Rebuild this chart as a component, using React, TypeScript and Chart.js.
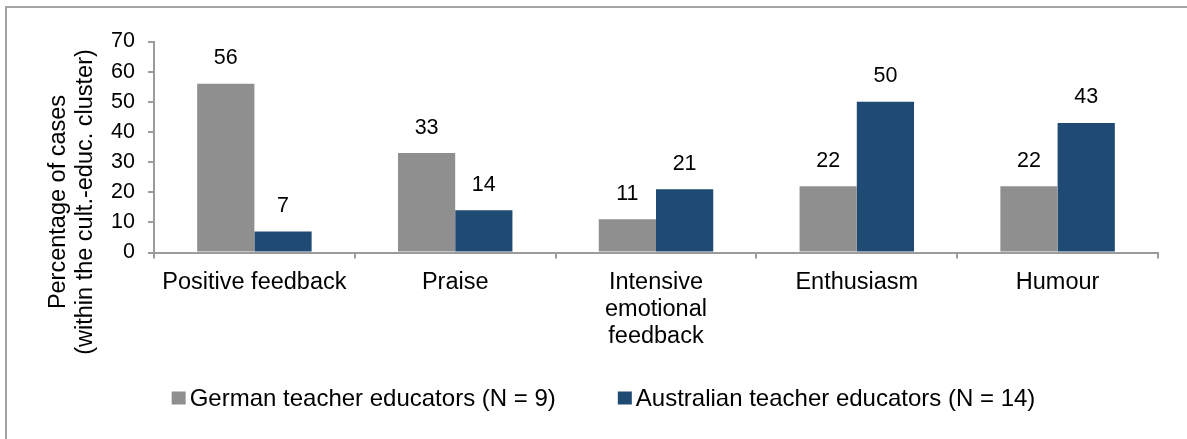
import React, { useEffect, useRef } from 'react';
import { Chart, registerables } from 'chart.js';

Chart.register(...registerables);

const categories: (string | string[])[] = [
  'Positive feedback',
  'Praise',
  ['Intensive', 'emotional', 'feedback'],
  'Enthusiasm',
  'Humour',
];
const germanValues = [56, 33, 11, 22, 22];
const australianValues = [7, 14, 21, 50, 43];
const seriesLabels = ['German teacher educators (N = 9)', 'Australian teacher educators (N = 14)'];
const yAxisTitle = ['Percentage of cases', '(within the cult.-educ. cluster)'];
const yMin = 0;
const yMax = 70;
const yStep = 10;

const FONT = '"Liberation Sans", Arial, Helvetica, sans-serif';
const GRAY = '#8f8f8f';
const BLUE = '#1f4a74';
const AXIS = '#9b9b9b';
const TEXT_SIZE = 23.5;
const LEGEND_SIZE = 24;
const NUM_SIZE = 21.5;

const valueLabelPlugin = {
  id: 'valueLabels',
  afterDatasetsDraw(chart: any) {
    const ctx = chart.ctx;
    ctx.save();
    ctx.font = `${NUM_SIZE}px ${FONT}`;
    ctx.fillStyle = '#000';
    ctx.textAlign = 'center';
    ctx.textBaseline = 'alphabetic';
    chart.data.datasets.forEach((ds: any, i: number) => {
      const meta = chart.getDatasetMeta(i);
      meta.data.forEach((el: any, j: number) => {
        ctx.fillText(String(ds.data[j]), el.x, el.y - 19.5);
      });
    });
    ctx.restore();
  },
};

const yTitlePlugin = {
  id: 'yTitle',
  afterDraw(chart: any) {
    const { ctx, chartArea } = chart;
    ctx.save();
    ctx.translate(chartArea.left - 95, (chartArea.top + chartArea.bottom) / 2 + 55);
    ctx.rotate(-Math.PI / 2);
    ctx.font = `${TEXT_SIZE}px ${FONT}`;
    ctx.fillStyle = '#000';
    ctx.textAlign = 'center';
    ctx.textBaseline = 'middle';
    yAxisTitle.forEach((line, i) => ctx.fillText(line, 0, i * 27));
    ctx.restore();
  },
};

// Legend drawn from the chart's own datasets (label + colour)
const legendPlugin = {
  id: 'bottomLegend',
  afterDraw(chart: any) {
    const ctx = chart.ctx;
    const items = chart.data.datasets.map((ds: any) => ({ text: ds.label, color: ds.backgroundColor }));
    const boxW = 14;
    const boxH = 13;
    const textGap = 4;
    const itemGap = 62;
    ctx.save();
    ctx.font = `${LEGEND_SIZE}px ${FONT}`;
    const widths = items.map((it: any) => boxW + textGap + ctx.measureText(it.text).width);
    const total = widths.reduce((a: number, b: number) => a + b, 0) + itemGap * (items.length - 1);
    const cx = chart.width / 2 + 10;
    const cy = chart.height - 39.5;
    let x = cx - total / 2;
    ctx.textAlign = 'left';
    ctx.textBaseline = 'middle';
    items.forEach((it: any, i: number) => {
      ctx.fillStyle = it.color;
      ctx.fillRect(x, cy - 8, boxW, boxH);
      ctx.fillStyle = '#000';
      ctx.fillText(it.text, x + boxW + textGap, cy);
      x += widths[i] + itemGap;
    });
    ctx.restore();
  },
};

export default function App() {
  const ref = useRef<HTMLCanvasElement | null>(null);

  useEffect(() => {
    if (!ref.current) return;
    const chart = new Chart(ref.current, {
      type: 'bar',
      data: {
        labels: categories as any,
        datasets: [
          {
            label: seriesLabels[0],
            data: germanValues,
            backgroundColor: GRAY,
            borderWidth: 0,
            barPercentage: 1,
            categoryPercentage: 0.57,
          },
          {
            label: seriesLabels[1],
            data: australianValues,
            backgroundColor: BLUE,
            borderWidth: 0,
            barPercentage: 1,
            categoryPercentage: 0.57,
          },
        ],
      },
      options: {
        animation: false,
        responsive: false,
        maintainAspectRatio: false,
        layout: { padding: { left: 0, right: 29, top: 41.5, bottom: 86.5 } },
        plugins: {
          legend: { display: false },
          tooltip: { enabled: false },
        },
        scales: {
          x: {
            grid: {
              offset: true,
              drawOnChartArea: false,
              drawTicks: true,
              tickLength: 6,
              color: AXIS,
              lineWidth: 2,
            },
            border: { display: true, color: AXIS, width: 2 },
            ticks: {
              color: '#000',
              font: { family: FONT, size: TEXT_SIZE, lineHeight: 1.14 },
              padding: 11,
              maxRotation: 0,
              minRotation: 0,
              autoSkip: false,
            },
            afterFit: (s: any) => {
              s.height = 100;
            },
          },
          y: {
            min: yMin,
            max: yMax,
            ticks: {
              stepSize: yStep,
              color: '#000',
              font: { family: FONT, size: NUM_SIZE },
              padding: 13,
            },
            grid: {
              drawOnChartArea: false,
              drawTicks: true,
              tickLength: 6,
              color: AXIS,
              lineWidth: 2,
            },
            border: { display: true, color: AXIS, width: 2 },
            afterFit: (s: any) => {
              s.width = 154;
            },
          },
        },
      },
      plugins: [valueLabelPlugin, yTitlePlugin, legendPlugin],
    });
    return () => chart.destroy();
  }, []);

  return (
    <div
      style={{
        position: 'fixed',
        left: 0,
        top: 0,
        width: 1187,
        height: 439,
        overflow: 'hidden',
        background: '#fff',
      }}
    >
      <div
        style={{
          position: 'absolute',
          left: 5,
          top: 6,
          width: 1400,
          height: 800,
          borderLeft: '2px solid #a3a3a3',
          borderTop: '2px solid #a3a3a3',
        }}
      />
      <canvas
        ref={ref}
        width={1187}
        height={439}
        style={{ position: 'absolute', left: 0, top: 0, width: 1187, height: 439 }}
      />
    </div>
  );
}
